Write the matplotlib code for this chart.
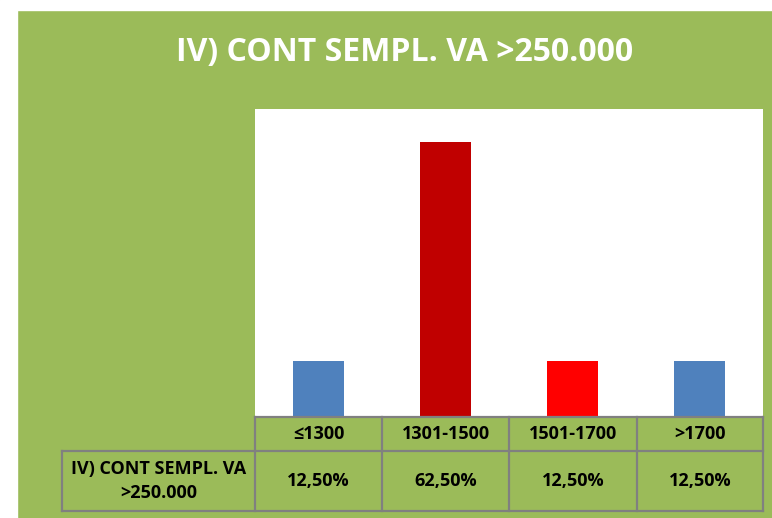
import matplotlib.pyplot as plt
from matplotlib.patches import Rectangle

categories = ["≤1300", "1301-1500", "1501-1700", ">1700"]
values = [12.5, 62.5, 12.5, 12.5]
value_labels = ["12,50%", "62,50%", "12,50%", "12,50%"]
bar_colors = ["#4F81BD", "#C00000", "#FF0000", "#4F81BD"]
series_name = "IV) CONT SEMPL. VA\n>250.000"
title = "IV) CONT SEMPL. VA >250.000"

plt.rcParams['font.family'] = ["Open Sans", "DejaVu Sans"]

GREEN = "#9BBB59"
W, H = 772, 518
fig = plt.figure(figsize=(W / 100, H / 100), dpi=100, facecolor=GREEN)

def fx(x):
    return x / W

def fy(y):
    return 1 - y / H

# white margins at top and left
fig.patches.append(Rectangle((0, fy(10)), 1, 1 - fy(10), transform=fig.transFigure, color="white", zorder=0))
fig.patches.append(Rectangle((0, 0), fx(17), 1, transform=fig.transFigure, color="white", zorder=0))

fig.text(fx(405), fy(53), title, ha="center", va="center", color="white",
         fontsize=23, fontweight="bold", fontstretch="condensed")

# plot area
left, right, top, bottom = 255, 763, 109, 416
ax = fig.add_axes([fx(left), fy(bottom), fx(right - left), fy(top) - fy(bottom)])
ax.set_facecolor("white")
x = range(len(categories))
ax.bar(x, values, width=0.4, color=bar_colors)
ax.set_xlim(-0.5, len(categories) - 0.5)
ax.set_ylim(0, 70)
ax.set_xticks([])
ax.set_yticks([])
for s in ax.spines.values():
    s.set_visible(False)

# data table
col_edges = [255, 382, 509, 637, 763]
row_edges = [417, 451, 511]
label_left = 62
lc = "#808080"
lw = 1.6

def hline(y, x0, x1):
    fig.add_artist(plt.Line2D([fx(x0), fx(x1)], [fy(y), fy(y)], color=lc, lw=lw))

def vline(x, y0, y1):
    fig.add_artist(plt.Line2D([fx(x), fx(x)], [fy(y0), fy(y1)], color=lc, lw=lw))

hline(row_edges[0], col_edges[0], col_edges[-1])
hline(row_edges[1], label_left, col_edges[-1])
hline(row_edges[2], label_left, col_edges[-1])
for cx in col_edges:
    vline(cx, row_edges[0], row_edges[2])
vline(label_left, row_edges[1], row_edges[2])

txt = dict(ha="center", va="center", fontsize=13, fontweight="bold", fontstretch="condensed")
for i, cat in enumerate(categories):
    cx = (col_edges[i] + col_edges[i + 1]) / 2
    fig.text(fx(cx), fy((row_edges[0] + row_edges[1]) / 2), cat, **txt)
    fig.text(fx(cx), fy((row_edges[1] + row_edges[2]) / 2), value_labels[i], **txt)

fig.text(fx((label_left + col_edges[0]) / 2), fy((row_edges[1] + row_edges[2]) / 2), series_name,
         linespacing=1.45, **txt)

fig.savefig("out.png", dpi=100, facecolor=GREEN)
